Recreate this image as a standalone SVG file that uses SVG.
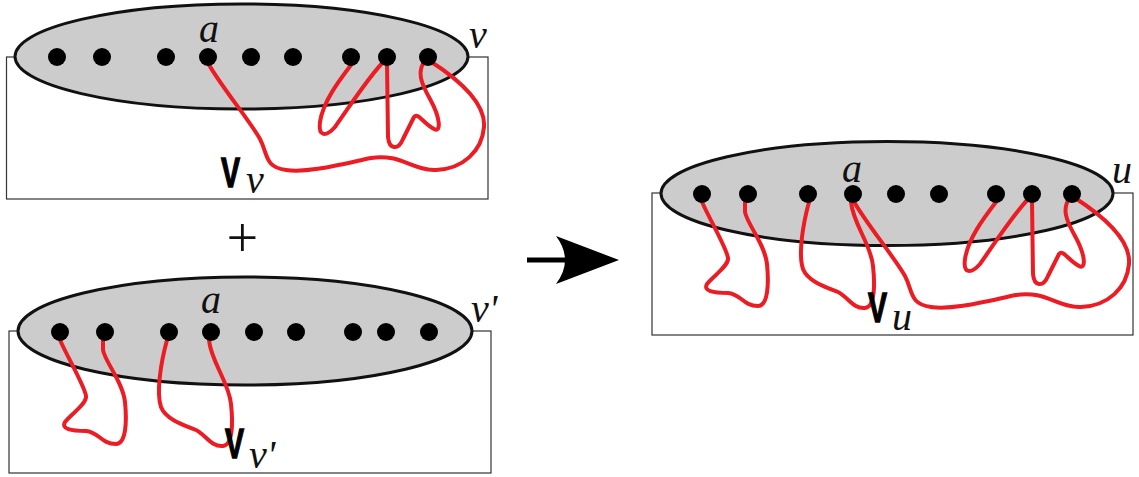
<svg xmlns="http://www.w3.org/2000/svg" width="1139" height="477" viewBox="0 0 1139 477">
<style>
.box{fill:#fff;stroke:#333;stroke-width:1.2}
.set{fill:#cccccc;stroke:#111;stroke-width:3}
.dot{fill:#000}
.wire{fill:none;stroke:#ec1c24;stroke-width:4;stroke-linecap:round;stroke-linejoin:round}
.lbl{font-family:"Liberation Serif",serif;font-style:italic;font-size:40px;fill:#111}
.big{font-family:"Liberation Sans",sans-serif;font-weight:bold;font-size:42px;fill:#000;stroke:#000;stroke-width:1.4}
.plus{font-family:"Liberation Serif",serif;font-style:italic;font-size:56px;fill:#111}
</style>
<defs>
<g id="rightWires">
<path class="wire" d="M0,6 C12,28 42,64 52,82 C60,97 56,110 78,113 C100,116 130,108 163,101 C192,96 205,114 228,113 C255,112 274,94 276,70 C278,45 250,22 222,4"/>
<path class="wire" d="M143,8 C130,25 115,45 112,65 C110,80 118,80 127,70 C140,52 160,20 178,2"/>
<path class="wire" d="M179,6 L180,80 C181,92 190,94 195,82 L206,60 C210,55 215,66 226,72 C233,76 233,62 222,42 C213,26 208,14 218,2"/>
</g>
<g id="leftWires">
<path class="wire" d="M-151,8 C-142,28 -126,55 -125,64 C-124,72 -140,82 -146,90 C-150,97 -140,99 -125,99 C-112,100 -110,112 -95,112 C-85,112 -84,90 -86,70 C-88,50 -106,30 -108,18 L-108,6"/>
<path class="wire" d="M-44,8 C-50,30 -55,60 -50,75 C-45,88 -25,94 -15,98 C-5,103 0,115 12,114 C22,113 22,90 20,72 C18,50 0,30 -2,8"/>
</g>
</defs>

<g id="panel-v">
<rect class="box" x="6.5" y="57" width="481.5" height="142"/>
<ellipse class="set" cx="241.5" cy="56.5" rx="226.5" ry="52.5"/>
<use href="#rightWires" transform="translate(208,57)"/>
<circle class="dot" cx="57" cy="57" r="9"/>
<circle class="dot" cx="102" cy="57" r="9"/>
<circle class="dot" cx="166" cy="57" r="9"/>
<circle class="dot" cx="208" cy="57" r="9"/>
<circle class="dot" cx="251" cy="57" r="9"/>
<circle class="dot" cx="293" cy="57" r="9"/>
<circle class="dot" cx="351" cy="57" r="9"/>
<circle class="dot" cx="387" cy="57" r="9"/>
<circle class="dot" cx="428" cy="57" r="9"/>
<text class="lbl" x="199" y="42">a</text>
<text class="lbl" x="469" y="48">ν</text>
<text class="big" transform="translate(221,187) scale(0.68,1)">V</text>
<text class="lbl" x="246" y="193">ν</text>
</g>

<text id="plus" class="plus" x="242" y="257" text-anchor="middle">+</text>

<g id="panel-v2">
<rect class="box" x="9" y="331" width="482" height="142"/>
<ellipse class="set" cx="245" cy="331" rx="227" ry="54"/>
<use href="#leftWires" transform="translate(211,332)"/>
<circle class="dot" cx="60" cy="332" r="9"/>
<circle class="dot" cx="105" cy="332" r="9"/>
<circle class="dot" cx="169" cy="332" r="9"/>
<circle class="dot" cx="211" cy="332" r="9"/>
<circle class="dot" cx="254" cy="332" r="9"/>
<circle class="dot" cx="296" cy="332" r="9"/>
<circle class="dot" cx="353" cy="332" r="9"/>
<circle class="dot" cx="386" cy="332" r="9"/>
<circle class="dot" cx="429" cy="332" r="9"/>
<text class="lbl" x="201" y="313">a</text>
<text class="lbl" x="471" y="322">ν'</text>
<text class="big" transform="translate(225,458) scale(0.68,1)">V</text>
<text class="lbl" x="249" y="468">ν'</text>
</g>

<g id="panel-u">
<rect class="box" x="652" y="193" width="481" height="142"/>
<ellipse class="set" cx="887" cy="193.5" rx="226" ry="52"/>
<use href="#leftWires" transform="translate(853,194)"/>
<use href="#rightWires" transform="translate(853,194)"/>
<circle class="dot" cx="702" cy="194" r="9"/>
<circle class="dot" cx="748" cy="194" r="9"/>
<circle class="dot" cx="808" cy="194" r="9"/>
<circle class="dot" cx="853" cy="194" r="9"/>
<circle class="dot" cx="896" cy="194" r="9"/>
<circle class="dot" cx="939" cy="194" r="9"/>
<circle class="dot" cx="996" cy="194" r="9"/>
<circle class="dot" cx="1032" cy="194" r="9"/>
<circle class="dot" cx="1072" cy="194" r="9"/>
<text class="lbl" x="842" y="182">a</text>
<text class="lbl" x="1112" y="183">u</text>
<text class="big" transform="translate(868,322) scale(0.68,1)">V</text>
<text class="lbl" x="892" y="330">u</text>
</g>

<g id="connectors">
<line x1="527" y1="260" x2="566" y2="260" stroke="#000" stroke-width="5"/>
<path d="M556,236 L619,260 L556,284 Q574,260 556,236 Z" fill="#000"/>
</g>
</svg>
